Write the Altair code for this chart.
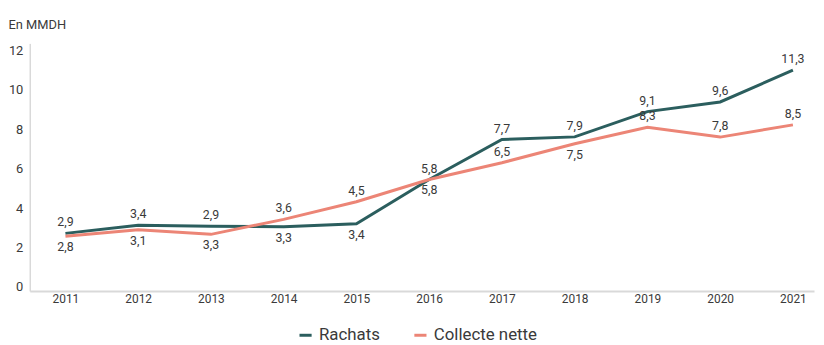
import altair as alt
import pandas as pd

years = [2011, 2012, 2013, 2014, 2015, 2016, 2017, 2018, 2019, 2020, 2021]
rachats = [2.72, 3.13, 3.08, 3.06, 3.21, 5.45, 7.48, 7.61, 8.89, 9.38, 10.99]
collecte = [2.57, 2.90, 2.67, 3.43, 4.32, 5.45, 6.30, 7.26, 8.10, 7.60, 8.22]
rachats_labels = ["2,9", "3,4", "2,9", "3,3", "3,4", "5,8", "7,7", "7,9", "9,1", "9,6", "11,3"]
collecte_labels = ["2,8", "3,1", "3,3", "3,6", "4,5", "5,8", "6,5", "7,5", "8,3", "7,8", "8,5"]
rachats_pos = ["above", "above", "above", "below", "below", "above", "above", "above", "above", "above", "above"]
collecte_pos = ["below", "below", "below", "above", "above", "below", "above", "below", "above", "above", "above"]

series = ["Rachats", "Collecte nette"]
colors = ["#2B5E5E", "#EC8576"]

rows = []
for i, y in enumerate(years):
    rows.append({"year": y, "serie": "Rachats", "value": rachats[i], "label": rachats_labels[i], "pos": rachats_pos[i]})
    rows.append({"year": y, "serie": "Collecte nette", "value": collecte[i], "label": collecte_labels[i], "pos": collecte_pos[i]})
df = pd.DataFrame(rows)

FONT = "Roboto"
TXT = "#3a3a3a"

x = alt.X("year:Q", scale=alt.Scale(domain=[2010.51, 2021.29], nice=False, zero=False),
          axis=alt.Axis(values=years, format="d", title=None, ticks=False, grid=False,
                        domainColor="#d9d9d9", domainWidth=2, labelFont=FONT, labelFontSize=12,
                        labelColor=TXT, labelPadding=3))
y = alt.Y("value:Q", scale=alt.Scale(domain=[-0.2, 12.35], nice=False, zero=False),
          axis=alt.Axis(values=[0, 2, 4, 6, 8, 10, 12], title=None, ticks=False, grid=False,
                        domainColor="#d9d9d9", domainWidth=1.5, labelFont=FONT, labelFontSize=13,
                        labelColor=TXT, labelPadding=7))

base = alt.Chart(df)

lines = base.mark_line(strokeWidth=3).encode(
    x=x, y=y,
    color=alt.Color("serie:N", scale=alt.Scale(domain=series, range=colors),
                    sort=series,
                    legend=alt.Legend(title=None, orient="none", direction="horizontal",
                                      legendX=270, legendY=286, symbolType="stroke",
                                      symbolStrokeWidth=3, symbolSize=150,
                                      labelFont=FONT, labelFontSize=17, labelColor=TXT,
                                      columnPadding=28, labelOffset=5)),
    detail="serie:N",
)

above = base.transform_filter(alt.datum.pos == "above").mark_text(
    font=FONT, fontSize=12.5, color=TXT, dy=-11).encode(x=x, y=y, text="label:N")
below = base.transform_filter(alt.datum.pos == "below").mark_text(
    font=FONT, fontSize=12.5, color=TXT, dy=11).encode(x=x, y=y, text="label:N")

chart = alt.layer(lines, above, below).properties(
    width=792, height=250,
    autosize=alt.AutoSizeParams(type="none"),
    padding={"left": 22, "top": 34, "right": 2, "bottom": 70},
    title=alt.TitleParams("En MMDH", anchor="start", frame="bounds", font=FONT, fontSize=13,
                          fontWeight="normal", color=TXT, offset=12),
).configure_view(stroke=None)

chart.save("out.html", embed_options={"renderer": "svg", "actions": False})
